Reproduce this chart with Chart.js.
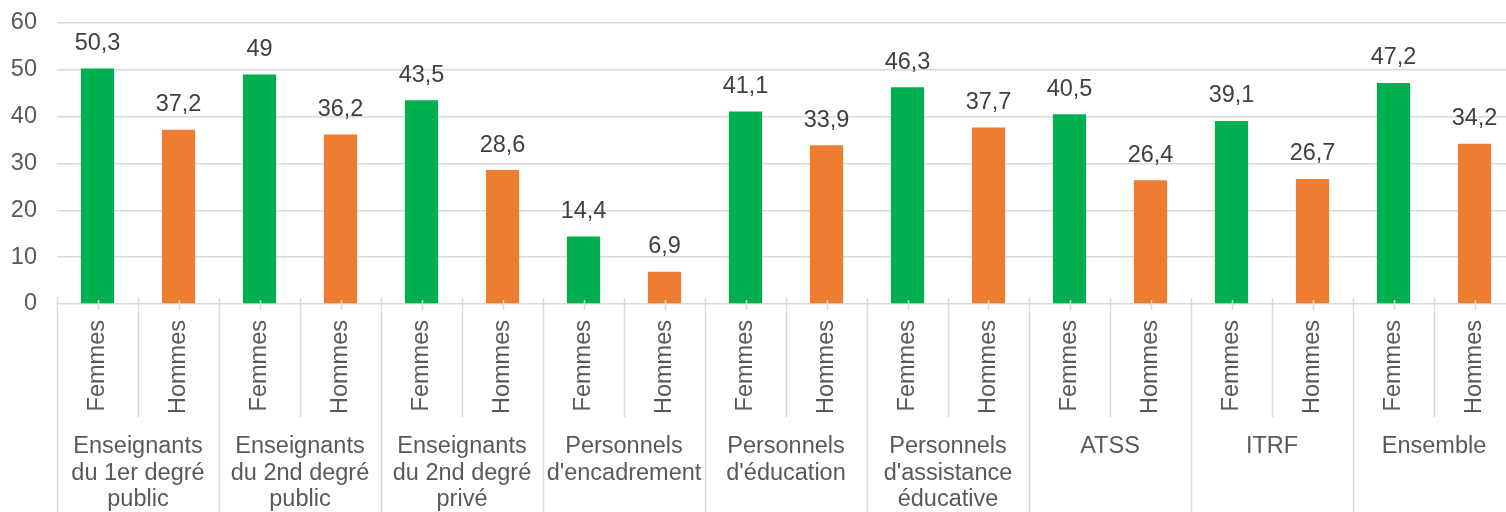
<!DOCTYPE html>
<html lang="fr">
<head>
<meta charset="utf-8">
<title>Femmes / Hommes par catégorie</title>
<script src="https://cdn.jsdelivr.net/npm/chart.js@4.4.1/dist/chart.umd.min.js"></script>
<style>
  html, body { margin: 0; padding: 0; background: #fff; overflow: hidden; }
  #wrap { width: 1515px; height: 512px; position: relative; }
</style>
</head>
<body>
<div id="wrap"><canvas id="chart"></canvas></div>
<script>
// Values per group, women first then men
const groups = [
    ['Enseignants', 'du 1er degré', 'public'],
    ['Enseignants', 'du 2nd degré', 'public'],
    ['Enseignants', 'du 2nd degré', 'privé'],
    ['Personnels', "d'encadrement"],
    ['Personnels', "d'éducation"],
    ['Personnels', "d'assistance", 'éducative'],
    ['ATSS'],
    ['ITRF'],
    ['Ensemble']
];
const femmes = [50.3, 49, 43.5, 14.4, 41.1, 46.3, 40.5, 39.1, 47.2];
const hommes = [37.2, 36.2, 28.6, 6.9, 33.9, 37.7, 26.4, 26.7, 34.2];
const yTicks = [0, 10, 20, 30, 40, 50, 60];

const GREEN = '#00B050';
const ORANGE = '#ED7D31';
const GRID = '#D9D9D9';
const FONT = { family: "'Liberation Sans', Arial, sans-serif", size: 23.5 };

const labels = [];
const values = [];
const colors = [];
femmes.forEach((f, i) => {
    labels.push('Femmes', 'Hommes');
    values.push(f, hommes[i]);
    colors.push(GREEN, ORANGE);
});

const fmt = v => String(v).replace('.', ',');

const extras = {
    id: 'extras',
    afterDatasetsDraw(chart) {
        const { ctx, chartArea, scales: { x } } = chart;
        const meta = chart.getDatasetMeta(0);
        const y0 = chartArea.bottom;
        ctx.save();

        // value labels over bars
        ctx.font = `${FONT.size}px ${FONT.family}`;
        ctx.fillStyle = '#404040';
        ctx.textAlign = 'center';
        ctx.textBaseline = 'middle';
        meta.data.forEach((bar, i) => {
            ctx.fillText(fmt(values[i]), bar.x, bar.y - 25);
        });

        // category separators and centre ticks
        ctx.strokeStyle = GRID;
        ctx.lineWidth = 1.5;
        const step = x.getPixelForValue(1) - x.getPixelForValue(0);
        for (let i = 0; i <= labels.length; i++) {
            const px = Math.round(x.getPixelForValue(i) - step / 2) + 0.5;
            const groupEdge = i % 2 === 0;
            ctx.beginPath();
            ctx.moveTo(px, y0 - 6);
            ctx.lineTo(px, groupEdge ? 512 : y0 + 113);
            ctx.stroke();
        }
        for (let i = 0; i < labels.length; i++) {
            const px = Math.round(x.getPixelForValue(i)) + 0.5;
            ctx.beginPath();
            ctx.moveTo(px, y0 - 4);
            ctx.lineTo(px, y0 + 6);
            ctx.stroke();
        }

        // group labels
        ctx.fillStyle = '#595959';
        groups.forEach((lines, g) => {
            const cx = (x.getPixelForValue(2 * g) + x.getPixelForValue(2 * g + 1)) / 2;
            lines.forEach((line, k) => {
                ctx.fillText(line, cx, y0 + 143 + k * 26.5);
            });
        });
        ctx.restore();
    }
};

new Chart(document.getElementById('chart'), {
    type: 'bar',
    data: {
        labels: labels,
        datasets: [{
            data: values,
            backgroundColor: colors,
            borderWidth: 0,
            barPercentage: 0.41,
            categoryPercentage: 1
        }]
    },
    options: {
        responsive: true,
        maintainAspectRatio: false,
        animation: false,
        layout: { padding: { top: 23, right: 0, left: 0, bottom: 0 } },
        plugins: { legend: { display: false }, tooltip: { enabled: false } },
        scales: {
            x: {
                grid: { display: false },
                border: { display: false },
                afterFit: s => { s.height = 208; },
                ticks: {
                    minRotation: 90,
                    maxRotation: 90,
                    padding: 8,
                    color: '#595959',
                    font: FONT
                }
            },
            y: {
                min: 0,
                max: 60,
                afterFit: s => { s.width = 57; s.paddingTop = 0; s.paddingBottom = 0; },
                afterBuildTicks: s => { s.ticks = yTicks.map(v => ({ value: v })); },
                grid: { color: GRID, lineWidth: 1.5, drawTicks: false },
                border: { display: false },
                ticks: {
                    padding: 20,
                    color: '#595959',
                    font: FONT
                }
            }
        }
    },
    plugins: [extras]
});
</script>
</body>
</html>
